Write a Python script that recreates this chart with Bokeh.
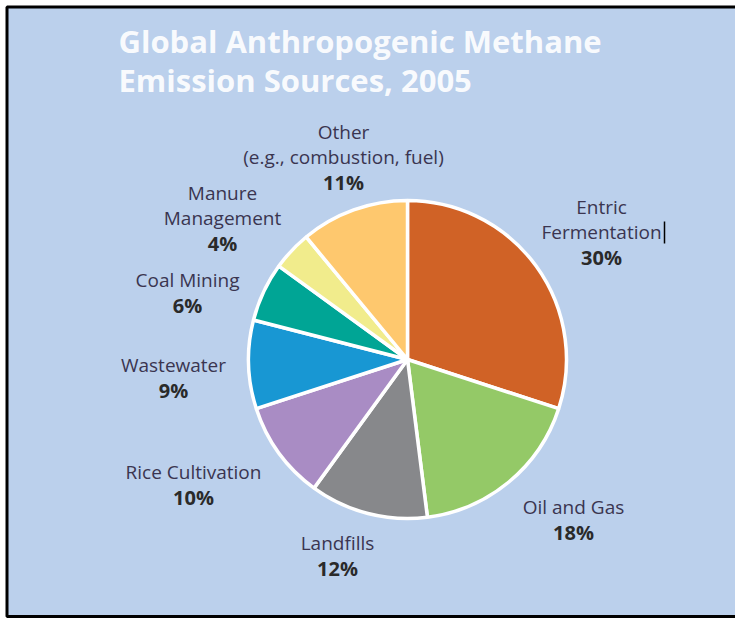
import numpy as np
from bokeh.plotting import figure
from bokeh.models import ColumnDataSource, Range1d
from bokeh.embed import file_html
from bokeh.resources import INLINE
from bokeh.core.properties import value

# ---- data ----
title_lines = ["Global Anthropogenic Methane", "Emission Sources, 2005"]
categories = ["Entric Fermentation", "Oil and Gas", "Landfills", "Rice Cultivation",
              "Wastewater", "Coal Mining", "Manure Management", "Other (e.g., combustion, fuel)"]
label_lines = [["Entric", "Fermentation"], ["Oil and Gas"], ["Landfills"], ["Rice Cultivation"],
               ["Wastewater"], ["Coal Mining"], ["Manure", "Management"],
               ["Other", "(e.g., combustion, fuel)"]]
shares = [30, 18, 12, 10, 9, 6, 4, 11]
colors = ["#d06226", "#94c967", "#87888b", "#a98cc4", "#1897d3", "#00a595", "#f1ec8c", "#fec86e"]

# ---- layout (page pixel coordinates) ----
W, H = 735, 618
def Y(py):
    return H - py

CX, CY, R = 407, 359, 159
label_pos = [(601, 206), (573, 506), (337, 542), (193, 471),
             (173, 364), (187, 279), (222, 192), (343, 131)]
LINE = 25.5

p = figure(width=W, height=H, output_backend="svg", toolbar_location=None,
           x_range=Range1d(0, W), y_range=Range1d(0, H),
           min_border=0, background_fill_color="white", border_fill_color="white")
p.axis.visible = False
p.grid.visible = False
p.outline_line_color = None

# panel with black frame
p.quad(left=[6.5], right=[W + 10], top=[Y(6.5)], bottom=[Y(616)],
       fill_color="#bbd0ec", line_color="black", line_width=3)

fr = np.array(shares, dtype=float) / sum(shares)
cum = np.concatenate([[0], np.cumsum(fr)])
start = np.pi / 2 - 2 * np.pi * cum[:-1]
end = np.pi / 2 - 2 * np.pi * cum[1:]

src = ColumnDataSource(dict(cat=categories, share=shares, start=start, end=end, color=colors))
p.wedge(x=CX, y=Y(CY), radius=R, start_angle="start", end_angle="end", direction="clock",
        fill_color="color", line_color="white", line_width=3.5, source=src)

# labels
tx, ty, tt = [], [], []
px, py_, pt = [], [], []
for (lx, ly), lines, s in zip(label_pos, label_lines, shares):
    for i, ln in enumerate(lines):
        tx.append(lx); ty.append(Y(ly + i * LINE)); tt.append(ln)
    px.append(lx); py_.append(Y(ly + len(lines) * LINE)); pt.append(f"{s}%")

p.text(x=tx, y=ty, text=tt, text_align="center", text_baseline="middle",
       text_font=value("Open Sans"), text_font_size="19px", text_color="#3a3550")
p.text(x=px, y=py_, text=pt, text_align="center", text_baseline="middle",
       text_font=value("Open Sans"), text_font_size="20px", text_font_style="bold",
       text_color="#2a2a2a")

# text-cursor mark visible after "Fermentation" in the source image
p.segment(x0=[664], y0=[Y(221)], x1=[664], y1=[Y(243)], line_color="black", line_width=1.5)

# title
p.text(x=[118, 118], y=[Y(40), Y(79)], text=title_lines, text_align="left",
       text_baseline="middle", text_font=value("Open Sans"), text_font_size="31px",
       text_font_style="bold", text_color="white", text_alpha=0.92)

open("out.html", "w").write(file_html(p, INLINE))
